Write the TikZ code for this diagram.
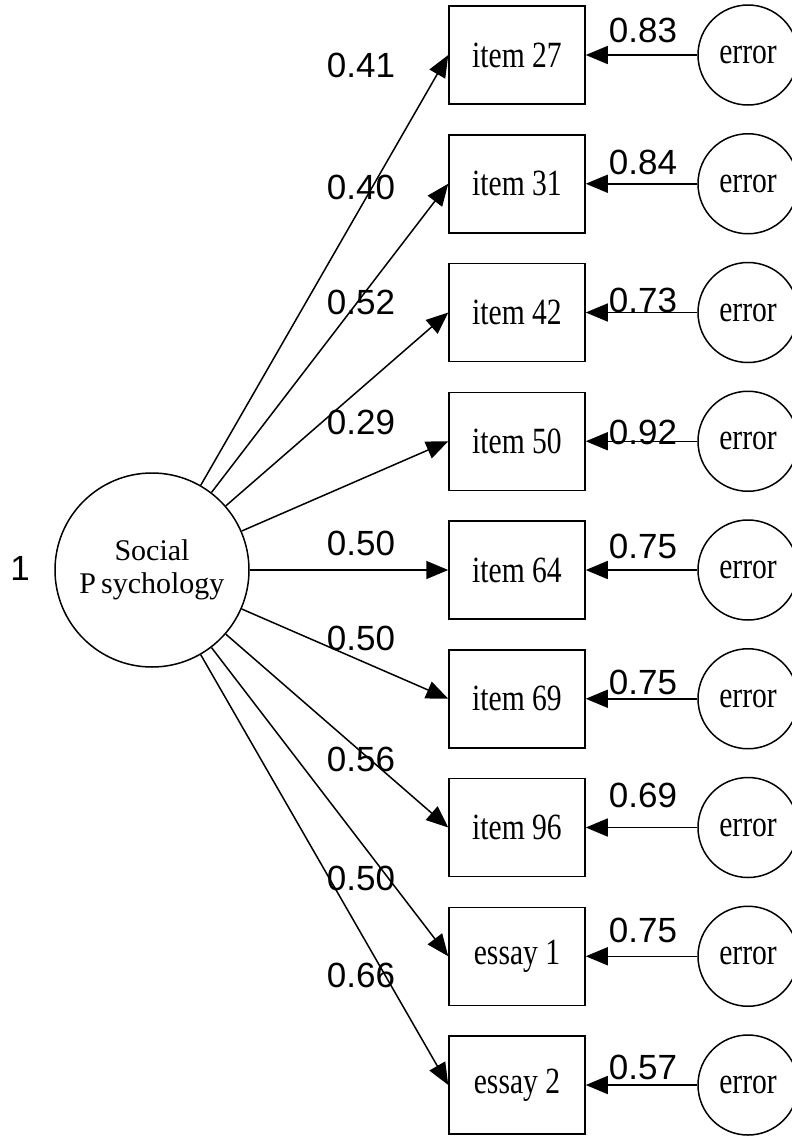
\documentclass[tikz,border=0pt]{standalone}
\usepackage{fontspec}
\setmainfont{Liberation Serif}
\newfontfamily\numfont{Liberation Sans}
\newfontfamily\narrowserif[FakeStretch=0.8]{Liberation Serif}
\usetikzlibrary{arrows.meta}
\begin{document}
\begin{tikzpicture}[x=1pt,y=-1pt,
  line width=1.5pt,
  obs/.style={draw,rectangle,minimum width=136pt,minimum height=98pt,inner sep=0pt,
    font=\narrowserif\fontsize{37}{37}\selectfont},
  err/.style={draw,circle,minimum size=100pt,inner sep=0pt,
    font=\narrowserif\fontsize{37}{37}\selectfont},
  latent/.style={draw,circle,minimum size=194pt,inner sep=0pt,align=center,
    font=\fontsize{30}{33}\selectfont},
  coef/.style={inner sep=0pt,font=\numfont\fontsize{35}{35}\selectfont},
  path/.style={-{Triangle[length=22pt,width=18pt]}}]
\useasboundingbox (0,0) rectangle (792,1136);

% latent factor
\node[latent] (sp) at (152,570) {Social\\P\,sychology};
\node[coef] (var) at (20,568) {1};

% indicators, their error terms and loadings
\foreach \name/\lab/\i/\lam/\ly/\ev/\ey in {
  i27/item 27/0/0.41/65/0.83/30,
  i31/item 31/1/0.40/187/0.84/162,
  i42/item 42/2/0.52/302/0.73/300,
  i50/item 50/3/0.29/422/0.92/432,
  i64/item 64/4/0.50/543/0.75/546,
  i69/item 69/5/0.50/638/0.75/682,
  i96/item 96/6/0.56/759/0.69/795,
  e1/essay 1/7/0.50/878/0.75/930,
  e2/essay 2/8/0.66/975/0.57/1067}{
  \pgfmathsetmacro{\yy}{55+128.75*\i}
  \node[obs] (\name) at (517,\yy) {\lab};
  \node[err] (err-\name) at (748,\yy) {error};
  \draw[path] (sp) -- (\name.west);
  \draw[path] (err-\name) -- (\name);
  \node[coef] (lam-\name) at (361,\ly) {\lam};
  \node[coef] (ev-\name) at (643,\ey) {\ev};
}
\end{tikzpicture}
\end{document}
